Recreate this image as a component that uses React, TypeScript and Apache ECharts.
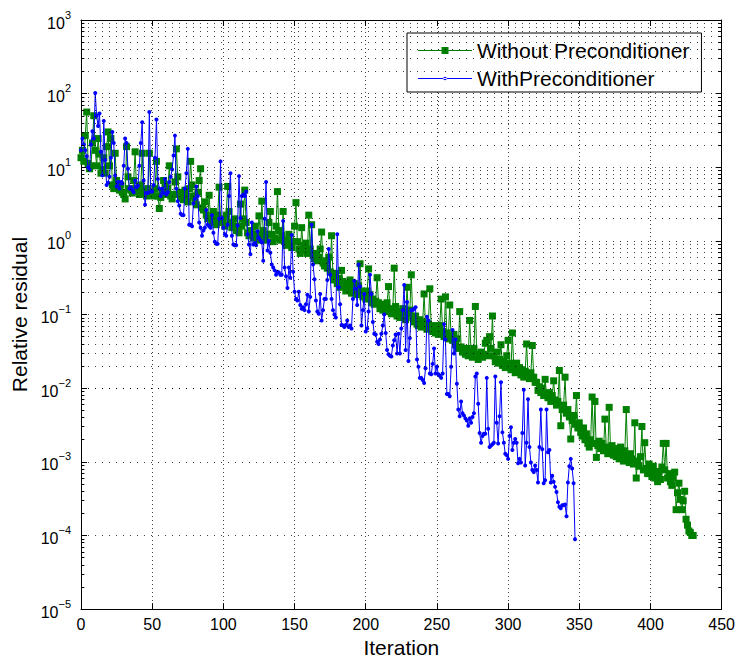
import React, { useEffect, useRef } from "react";
import * as echarts from "echarts";

// log10 of the relative residual, one value per iteration (0, 1, 2, ...)
const withoutPrecondLog10 = [
  1.13, 1.23, 1.08, 1.43, 1.75, 1.05, 0.98, 1.02, 1.33, 1.70,
  1.23, 1.02, 1.39, 1.18, 0.92, 0.97, 1.13, 0.92, 1.28, 1.48,
  1.02, 1.39, 0.76, 0.71, 1.19, 0.82, 0.73, 0.69, 0.76, 0.66,
  0.63, 0.57, 1.28, 0.87, 0.71, 0.69, 0.65, 0.82, 1.21, 0.71,
  0.67, 0.63, 0.76, 1.19, 0.69, 0.65, 0.61, 0.71, 1.19, 0.66,
  0.63, 0.61, 0.71, 1.08, 0.61, 0.44, 0.59, 0.66, 0.82, 0.76,
  0.63, 0.71, 1.02, 0.61, 0.57, 0.63, 0.80, 1.25, 0.87, 0.66,
  0.59, 0.63, 0.56, 0.69, 0.61, 0.53, 0.71, 1.08, 0.76, 0.61,
  0.53, 0.49, 0.66, 0.82, 0.98, 0.45, 0.42, 0.53, 0.35, 0.30,
  0.62, 0.30, 0.25, 0.40, 0.28, 0.22, 0.35, 0.73, 0.30, 0.25,
  0.28, 0.20, 0.35, 0.74, 0.40, 0.25, 0.18, 0.20, 0.30, 0.14,
  0.20, 0.11, 0.50, 0.20, 0.30, 0.69, 0.25, 0.11, 0.07, 0.14,
  0.09, 0.04, 0.20, 0.07, 0.01, 0.34, 0.09, 0.54, 0.14, 0.04,
  0.01, 0.09, 0.25, 0.40, 0.09, -0.01, 0.04, 0.20, 0.67, 0.14,
  0.01, 0.07, 0.40, -0.01, -0.06, 0.01, 0.09, -0.03, -0.09, -0.01,
  0.20, 0.52, -0.01, -0.11, -0.17, 0.18, -0.06, -0.13, -0.03, -0.17,
  0.35, -0.11, 0.22, -0.20, -0.24, -0.17, -0.27, -0.22, -0.11, 0.12,
  -0.30, -0.34, -0.27, -0.37, -0.22, -0.42, 0.07, -0.48, -0.53, -0.44,
  -0.58, -0.51, -0.63, -0.40, -0.55, -0.61, -0.68, -0.58, -0.65, -0.53,
  -0.71, -0.63, -0.58, -0.68, -0.73, -0.61, -0.31, -0.68, -0.76, -0.71,
  -0.79, -0.68, -0.38, -0.73, -0.84, -0.79, -0.86, -0.82, -0.50, -0.84,
  -0.92, -0.86, -0.94, -0.89, -0.96, -0.84, -0.62, -0.92, -0.99, -0.94,
  -0.37, -0.89, -1.02, -0.96, -1.04, -0.99, -0.92, -1.02, -1.07, -0.63,
  -0.99, -0.94, -0.46, -1.04, -1.10, -1.02, -1.13, -1.15, -1.07, -1.17,
  -1.10, -0.72, -1.15, -1.20, -1.13, -0.65, -1.17, -1.23, -1.15, -1.25,
  -1.20, -1.27, -1.15, -0.79, -1.23, -1.30, -0.76, -1.25, -1.33, -0.87,
  -1.30, -1.35, -1.27, -1.41, -1.33, -1.46, -0.96, -1.44, -1.51, -1.48,
  -1.54, -1.46, -1.56, -1.08, -1.51, -1.58, -1.46, -0.89, -1.54, -1.61,
  -1.56, -1.51, -1.58, -1.54, -1.39, -1.35, -1.56, -1.30, -1.46, -1.02,
  -1.56, -1.64, -1.51, -1.66, -1.61, -1.41, -1.69, -1.64, -1.72, -1.56,
  -1.35, -1.66, -1.75, -1.25, -1.72, -1.79, -1.66, -1.77, -1.72, -1.82,
  -1.75, -1.85, -1.77, -1.40, -1.82, -1.87, -1.79, -1.42, -1.85, -1.92,
  -1.92, -2.03, -1.98, -2.06, -2.00, -2.10, -1.88, -2.08, -2.13, -2.06,
  -2.18, -2.10, -1.90, -2.16, -2.23, -2.18, -1.76, -2.51, -2.29, -2.23,
  -1.85, -2.34, -2.29, -2.39, -2.69, -2.44, -2.37, -2.49, -2.10, -2.54,
  -2.47, -2.60, -2.65, -2.54, -2.70, -2.62, -2.75, -2.80, -2.70, -2.12,
  -2.75, -2.18, -2.94, -2.78, -2.72, -2.82, -2.75, -2.85, -2.42, -2.80,
  -2.89, -2.26, -2.85, -2.78, -2.91, -2.82, -2.93, -2.86, -2.96, -2.80,
  -2.91, -2.99, -2.85, -2.29, -2.93, -3.01, -2.89, -2.96, -3.03, -2.47,
  -3.22, -2.99, -3.06, -2.93, -2.52, -3.11, -2.74, -3.09, -3.16, -3.03,
  -3.11, -3.20, -3.06, -3.22, -3.13, -3.27, -3.16, -3.24, -3.07, -2.75,
  -3.11, -2.75, -3.22, -3.16, -3.27, -3.32, -3.22, -3.14, -3.65, -3.42,
  -3.29, -3.51, -3.65, -3.53, -3.40, -3.78, -3.86, -3.94, -3.96, -4.00,
  -4.00,
];

const withPrecondLog10 = [
  1.23, 1.39, 1.31, 1.23, 1.15, 1.00, 0.97, 1.31, 1.49, 1.39,
  2.01, 1.70, 1.56, 1.73, 1.21, 0.89, 1.63, 1.10, 0.76, 0.79,
  0.87, 1.13, 1.48, 1.33, 0.89, 0.74, 0.80, 0.71, 0.80, 0.78,
  1.02, 1.39, 1.33, 0.98, 0.71, 0.73, 0.69, 0.66, 0.82, 0.73,
  0.75, 1.02, 1.33, 1.61, 0.82, 0.49, 0.65, 0.65, 1.75, 0.67,
  0.67, 0.76, 1.13, 1.65, 0.84, 0.71, 0.61, 0.71, 0.65, 0.84,
  0.63, 0.66, 0.80, 0.87, 0.97, 1.16, 1.43, 0.71, 0.54, 0.48,
  0.37, 0.35, 0.35, 0.71, 0.92, 1.25, 0.22, 0.22, 0.20, 0.51,
  0.57, 0.74, 0.61, 0.25, 0.18, 0.07, 0.14, 0.18, 0.42, 0.22,
  0.20, 0.18, 0.35, 0.11, -0.01, -0.04, -0.04, 0.30, 1.08, 0.31,
  0.18, 0.09, 0.07, 0.22, 0.61, 0.92, 0.07, -0.05, -0.06, -0.06,
  0.21, 0.88, 0.31, 0.61, 0.63, 0.61, 0.67, 0.09, -0.05, -0.18,
  0.25, -0.05, -0.03, -0.06, 0.13, 0.04, 0.01, -0.02, -0.27, 0.30,
  0.80, -0.13, 0.00, -0.16, -0.32, -0.36, -0.40, -0.46, -0.42, -0.43,
  -0.46, -0.46, 0.27, -0.36, -0.48, -0.64, -0.36, -0.50, 0.08, -0.42,
  -0.69, -0.79, -0.81, -0.69, -0.87, -0.92, -0.90, -0.94, -0.86, -0.73,
  -0.96, -0.76, 0.22, -0.32, -0.52, -0.81, -0.96, -0.99, -0.72, -1.08,
  -0.94, -0.79, -0.79, -0.53, -0.11, -0.46, -0.79, -0.94, -1.00, -1.04,
  0.09, -0.63, -0.86, -1.14, -1.15, -1.17, -1.14, -1.08, -1.17, -1.15,
  -1.19, -0.79, -0.54, -0.65, -0.87, -0.32, -0.62, -1.15, -0.94, -0.72,
  -1.23, -1.19, -0.96, -0.46, -0.72, -1.10, -1.26, -1.27, -1.37, -1.40,
  -1.34, -1.26, -1.15, -1.00, -1.25, -1.48, -1.54, -1.56, -1.57, -1.42,
  -1.35, -1.27, -1.53, -1.26, -1.53, -1.19, -0.94, -0.60, -1.48, -0.83,
  -1.63, -1.32, -0.94, -0.94, -0.92, -0.90, -1.61, -1.71, -1.86, -1.86,
  -1.89, -1.93, -1.73, -1.03, -1.08, -1.80, -1.81, -1.67, -1.46, -1.80,
  -1.71, -1.81, -1.83, -1.86, -1.80, -1.13, -1.34, -2.08, -2.08, -2.11,
  -1.71, -1.21, -1.53, -1.34, -1.94, -2.29, -2.38, -2.18, -2.34, -2.37,
  -2.41, -2.44, -2.51, -2.41, -2.47, -2.39, -2.34, -1.84, -1.80, -2.21,
  -2.61, -2.74, -2.65, -2.62, -2.62, -1.86, -2.55, -2.80, -2.78, -2.76,
  -2.74, -1.84, -2.47, -2.75, -2.38, -1.92, -2.60, -2.74, -2.89, -2.91,
  -2.96, -2.65, -2.53, -2.84, -2.74, -2.69, -2.74, -3.02, -2.96, -3.01,
  -2.61, -2.02, -3.05, -2.74, -2.15, -2.80, -3.01, -3.11, -3.14, -3.05,
  -3.11, -3.28, -2.80, -2.29, -2.83, -3.29, -3.25, -2.29, -2.87, -2.84,
  -3.28, -3.19, -3.27, -3.34, -3.41, -3.55, -3.61, -3.63, -3.59, -3.59,
  -3.58, -3.74, -3.28, -3.06, -2.96, -3.09, -3.29, -4.05,
];

const seriesNames = ["Without Preconditioner", "WithPreconditioner"];
const xTickValues = [0, 50, 100, 150, 200, 250, 300, 350, 400, 450];
const yDecadeExponents = [-5, -4, -3, -2, -1, 0, 1, 2, 3];
const minorMultipliers = [2, 3, 4, 5, 6, 7, 8, 9];

const FONT = "'Liberation Sans', Arial, Helvetica, sans-serif";

export default function App() {
  const ref = useRef<HTMLDivElement>(null);

  useEffect(() => {
    if (!ref.current) return;
    const chart = echarts.init(ref.current, null, { renderer: "svg" });

    const greenData = withoutPrecondLog10.map((e, i) => [i, Math.pow(10, e)]);
    const blueData = withPrecondLog10.map((e, i) => [i, Math.pow(10, e)]);

    const xMin = xTickValues[0];
    const xMax = xTickValues[xTickValues.length - 1];
    const yMin = Math.pow(10, yDecadeExponents[0]);
    const yMax = Math.pow(10, yDecadeExponents[yDecadeExponents.length - 1]);

    const minorValues: number[] = [];
    yDecadeExponents.slice(0, -1).forEach((d) => {
      minorMultipliers.forEach((m) => minorValues.push(m * Math.pow(10, d)));
    });

    const gridLineStyle = { color: "#000", width: 1, type: [1, 6] as any, opacity: 0.75 };

    const markLineData: any[] = [];
    minorValues.forEach((v) => {
      markLineData.push({ yAxis: v, lineStyle: gridLineStyle });
      markLineData.push([
        { coord: [xMin, v], lineStyle: { color: "#000", width: 1, type: "solid" } },
        { coord: [xMin + 2.4, v] },
      ]);
      markLineData.push([
        { coord: [xMax - 2.4, v], lineStyle: { color: "#000", width: 1, type: "solid" } },
        { coord: [xMax, v] },
      ]);
    });

    const supLabel = (v: number) => {
      const e = Math.round(Math.log10(v));
      const s = e < 0 ? "\u2212" + String(-e) : String(e);
      return `{b|10}{e|${s}}`;
    };

    const option: any = {
      animation: false,
      backgroundColor: "#fff",
      textStyle: { fontFamily: FONT },
      grid: { left: 81, right: 14, top: 20, bottom: 48, containLabel: false },
      legend: {
        orient: "vertical",
        left: 407,
        top: 33,
        data: [
          {
            name: seriesNames[0],
            icon: "path://M0,3L54,3L54,4L0,4Z M23.5,0L30.5,0L30.5,7L23.5,7Z",
          },
          {
            name: seriesNames[1],
            icon: "path://M0,3L54,3L54,4L0,4Z M25.2,3.5A1.8,1.8 0 1 0 28.8,3.5A1.8,1.8 0 1 0 25.2,3.5Z",
          },
        ],
        itemWidth: 54,
        itemHeight: 7,
        itemGap: 7,
        padding: [7, 12, 3, 11],
        borderColor: "#000",
        borderWidth: 1,
        borderRadius: 0,
        backgroundColor: "#fff",
        selectedMode: false,
        textStyle: { fontSize: 21, lineHeight: 20, color: "#000", fontFamily: FONT },
      },
      xAxis: [
        {
          type: "value",
          min: xMin,
          max: xMax,
          interval: 50,
          position: "bottom",
          name: "Iteration",
          nameLocation: "middle",
          nameGap: 25,
          nameTextStyle: { fontSize: 21, color: "#000", fontFamily: FONT },
          axisLine: { show: true, onZero: false, lineStyle: { color: "#000", width: 1 } },
          axisTick: { show: true, inside: true, length: 6, lineStyle: { color: "#000" } },
          axisLabel: { fontSize: 16, color: "#000", margin: 7, fontFamily: FONT },
          splitLine: { show: true, lineStyle: { color: "#000", width: 1, type: [1, 3], opacity: 0.75 } },
        },
        {
          type: "value",
          min: xMin,
          max: xMax,
          interval: 50,
          position: "top",
          axisLine: { show: true, onZero: false, lineStyle: { color: "#000", width: 1 } },
          axisTick: { show: true, inside: true, length: 6, lineStyle: { color: "#000" } },
          axisLabel: { show: false },
          splitLine: { show: false },
        },
      ],
      yAxis: [
        {
          type: "log",
          logBase: 10,
          min: yMin,
          max: yMax,
          splitNumber: 8,
          position: "left",
          name: "Relative residual",
          nameLocation: "middle",
          nameGap: 50,
          nameTextStyle: { fontSize: 21, color: "#000", fontFamily: FONT },
          axisLine: { show: true, onZero: false, lineStyle: { color: "#000", width: 1 } },
          axisTick: { show: true, inside: true, length: 6, lineStyle: { color: "#000" } },
          axisLabel: {
            color: "#000",
            margin: 10,
            formatter: supLabel,
            rich: {
              b: { fontSize: 16, lineHeight: 22, verticalAlign: "bottom", color: "#000", fontFamily: FONT },
              e: { fontSize: 11, lineHeight: 22, verticalAlign: "top", color: "#000", fontFamily: FONT },
            },
          },
          splitLine: { show: true, lineStyle: gridLineStyle },
        },
        {
          type: "log",
          logBase: 10,
          min: yMin,
          max: yMax,
          splitNumber: 8,
          position: "right",
          axisLine: { show: true, onZero: false, lineStyle: { color: "#000", width: 1 } },
          axisTick: { show: true, inside: true, length: 6, lineStyle: { color: "#000" } },
          axisLabel: { show: false },
          splitLine: { show: false },
        },
      ],
      series: [
        {
          name: "minor-grid",
          type: "line",
          data: [],
          z: 1,
          silent: true,
          markLine: {
            silent: true,
            symbol: ["none", "none"],
            label: { show: false },
            emphasis: { disabled: true },
            animation: false,
            data: markLineData,
          },
        },
        {
          name: seriesNames[0],
          type: "line",
          data: greenData,
          z: 3,
          symbol: "rect",
          symbolSize: 7,
          showAllSymbol: true,
          color: "#008000",
          itemStyle: { color: "#008000" },
          lineStyle: { color: "#008000", width: 1 },
          emphasis: { disabled: true },
          silent: true,
        },
        {
          name: seriesNames[1],
          type: "line",
          data: blueData,
          z: 4,
          symbol: "circle",
          symbolSize: 4,
          showAllSymbol: true,
          color: "#0000ff",
          itemStyle: { color: "#0000ff" },
          lineStyle: { color: "#0000ff", width: 1 },
          emphasis: { disabled: true },
          silent: true,
        },
      ],
    };

    chart.setOption(option);
    return () => chart.dispose();
  }, []);

  return (
    <div
      ref={ref}
      style={{ position: "fixed", left: 0, top: 0, width: 738, height: 663, background: "#fff" }}
    />
  );
}
